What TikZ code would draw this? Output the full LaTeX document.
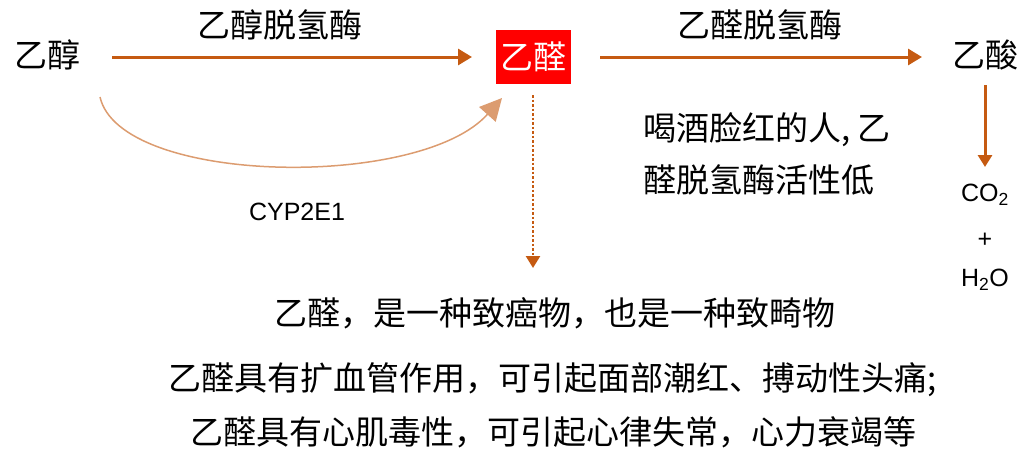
\documentclass[tikz,border=0pt]{standalone}
\usepackage{fontspec}
\setmainfont{Noto Sans CJK SC}
\newfontfamily\lat{Liberation Sans}
\usetikzlibrary{arrows.meta}
\begin{document}
\begin{tikzpicture}[x=1pt,y=-1pt,
  lbl/.style={font=\fontsize{33}{38}\selectfont,inner sep=0pt},
  sm/.style={font=\fontsize{25}{30}\selectfont\lat,inner sep=0pt}]
\definecolor{ob}{HTML}{C55A11}
\useasboundingbox (0,0) rectangle (1033,461);
\node[lbl] (a) at (47,55) {乙醇};
\node[lbl,fill=red,text=white,minimum width=75pt,minimum height=54pt] (b) at (533,57) {乙醛};
\node[lbl] (c) at (985,55) {乙酸};
\draw[draw=ob,line width=3pt,-{Triangle[length=14pt,width=16pt]}] (112,57) -- (472,57);
\draw[draw=ob,line width=3pt,-{Triangle[length=14pt,width=16pt]}] (600,57) -- (922,57);
\node[lbl] at (280,25) {乙醇脱氢酶};
\node[lbl] at (760,25) {乙醛脱氢酶};
\coordinate (s) at (100,97);
\coordinate (e) at (502,98);
\draw[draw=ob!60!white,line width=1.5pt,-{Triangle[length=22pt,width=22pt]}] (s) .. controls (120,185) and (420,190) .. (e);
\node[sm] at (297,212) {CYP2E1};
\coordinate (d) at (533,268);
\draw[draw=ob,line width=2.5pt,dotted,-{Triangle[length=12pt,width=14pt]}] (533,95) -- (d);
\node[lbl,anchor=west] at (643,130) {喝酒脸红的人, 乙};
\node[lbl,anchor=west] at (643,180) {醛脱氢酶活性低};
\node[sm] (co) at (985,195) {CO\textsubscript{2}};
\draw[draw=ob,line width=3pt,-{Triangle[length=12pt,width=14pt]}] (985,85) -- (985,167);
\node[sm] at (985,240) {+};
\node[sm] at (985,280) {H\textsubscript{2}O};
\node[lbl] at (555,313) {乙醛，是一种致癌物，也是一种致畸物};
\node[lbl] at (553,380) {乙醛具有扩血管作用，可引起面部潮红、搏动性头痛;};
\node[lbl] at (553,432) {乙醛具有心肌毒性，可引起心律失常，心力衰竭等};
\end{tikzpicture}
\end{document}
